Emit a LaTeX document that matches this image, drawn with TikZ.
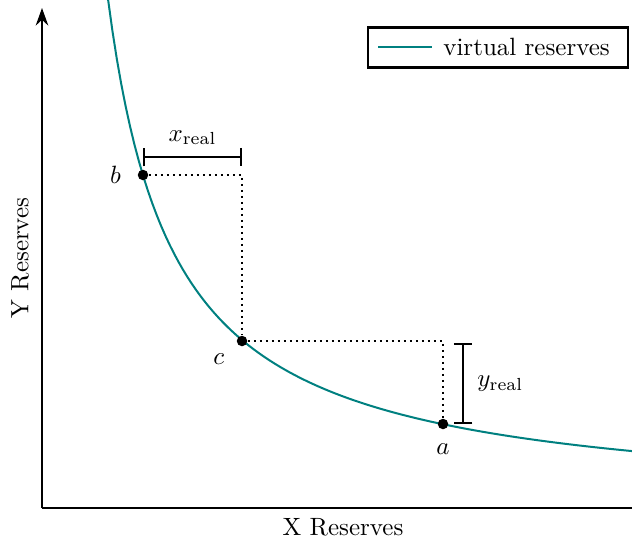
\documentclass[tikz,border=0pt]{standalone}
\usepackage{amsmath}
\usepackage{tikz}
\usetikzlibrary{arrows.meta, positioning}
\tikzset{
	axis/.style={line width=0.9pt},
	point/.style={circle, fill=black, inner sep=0pt, minimum size=4.2pt},
	guide/.style={line width=1.1pt, dash pattern=on 1pt off 1.4pt},
	span/.style={line width=0.9pt, {Bar[width=7.4pt]}-{Bar[width=7.4pt]}},
	curve/.style={teal, line width=0.8pt}
}

\begin{document}
\begin{tikzpicture}[x=0.4pt, y=-0.4pt]
		\useasboundingbox (0,0) rectangle (632,543);
		
		% Axes
		\coordinate (origin) at (42,508);
		\coordinate (ytop) at (42,8);
		\coordinate (xend) at (650,508);
		\draw[axis, -{Stealth[length=7pt, width=5pt]}] (origin) -- (ytop);
		\draw[axis, -{Stealth[length=7pt, width=5pt]}] (origin) -- (xend);
		\node[rotate=90] (ylabel) at (20,258) {Y Reserves};
		\node (xlabel) at (343,527) {X Reserves};
		
		% Virtual reserves curve
		\draw[curve] plot[domain=66:592, samples=120] ({42+\x}, {508-336/\x*100});
		
		% Points on the curve
		\node[point] (b) at (143,175) {};
		\node[point] (c) at (242,341) {};
		\node[point] (a) at (443,424) {};
		\node[left=3pt of b] {$b$};
		\node[below left=0pt and 2pt of c] {$c$};
		\node[below=2pt of a] {$a$};
		
		% Dotted guides
		\coordinate (bc) at (242,175);
		\coordinate (ca) at (443,341);
		\draw[guide] (b) -- (bc) -- (c);
		\draw[guide] (c) -- (ca) -- (a);
		
		% Real reserves brackets
		\coordinate (xl) at (143,157);
		\coordinate (xr) at (242,157);
		\draw[span] (xl) -- (xr) node[midway, above=1pt] {$x_{\text{real}}$};
		\coordinate (yt) at (463,343);
		\coordinate (yb) at (463,424);
		\draw[span] (yt) -- (yb) node[midway, right=2pt] {$y_{\text{real}}$};
		
		% Legend
		\node[draw, line width=1pt, minimum width=104pt, minimum height=16pt] (legend) at (498,47.5) {};
		\coordinate (ls) at (378,47);
		\coordinate (le) at (432,47);
		\draw[curve] (ls) -- (le);
		\node[right=1pt of le] {virtual reserves};
	\end{tikzpicture}
\end{document}
